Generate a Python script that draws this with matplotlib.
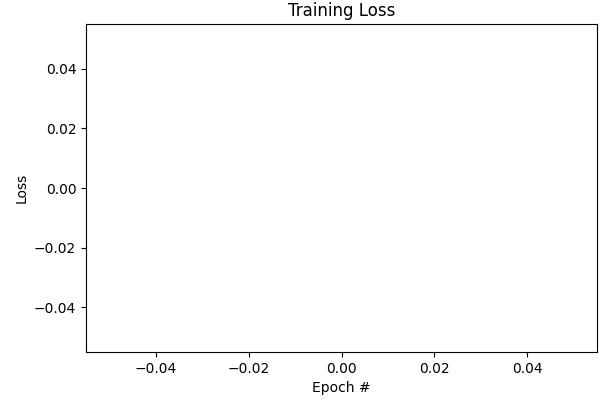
import matplotlib
matplotlib.use("Agg")
import matplotlib.pyplot as plt

# training history was empty, so nothing gets drawn
epochs = []
losses = []

W, H = 607, 409
fig = plt.figure(figsize=(W / 100, H / 100), dpi=100)
left, right, top, bottom = 86, 597, 24, 352
ax = fig.add_axes([left / W, 1 - bottom / H, (right - left) / W, (bottom - top) / H])

ax.plot(epochs, losses)
ax.set_title('Training Loss')
ax.set_xlabel('Epoch #')
ax.set_ylabel('Loss')

fig.savefig('out.png', dpi=100)
